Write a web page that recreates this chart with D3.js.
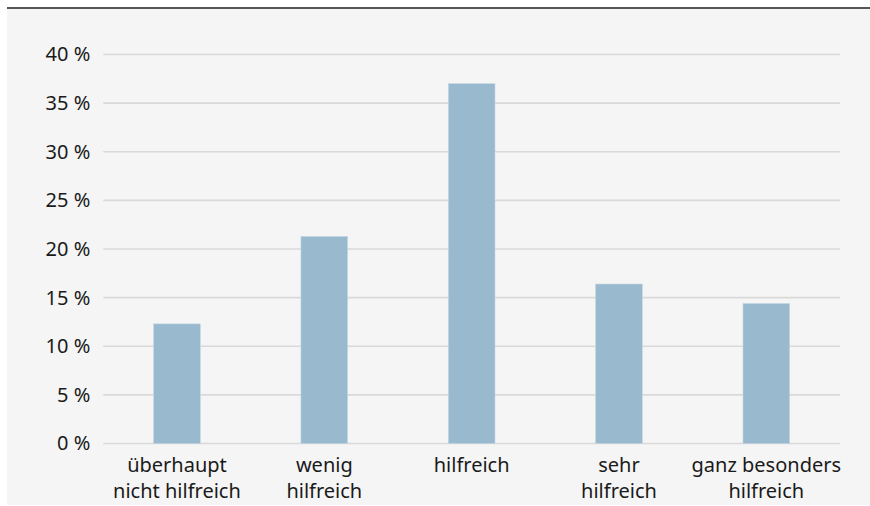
<!DOCTYPE html>
<html lang="de">
<head>
    <meta charset="UTF-8">
    <script src="https://d3js.org/d3.v7.min.js"></script>
    <style>
        body { margin: 0; padding: 0; background: #fff; }
        svg text { font-family: "Noto Sans", "Open Sans", sans-serif; fill: #1a1a1a; }
    </style>
</head>
<body>
    <div id="chart"></div>
    <script>
        // data
        var categories = [
            ["überhaupt", "nicht hilfreich"],
            ["wenig", "hilfreich"],
            ["hilfreich"],
            ["sehr", "hilfreich"],
            ["ganz besonders", "hilfreich"]
        ];
        var values = [12.3, 21.3, 37.0, 16.4, 14.4];
        var yTicks = [0, 5, 10, 15, 20, 25, 30, 35, 40];

        var W = 870, H = 506;
        var margin = { top: 54.5, right: 30, bottom: 62.5, left: 103.3 },
            width = 840 - margin.left,
            height = 443.5 - margin.top;

        var svg = d3.select("#chart")
            .append("svg")
            .attr("width", W)
            .attr("height", H);

        // panel background + top rule
        svg.append("rect")
            .attr("x", 7).attr("y", 9)
            .attr("width", W - 7).attr("height", H - 10)
            .attr("fill", "#f5f5f5");
        svg.append("line")
            .attr("x1", 7).attr("x2", W)
            .attr("y1", 8).attr("y2", 8)
            .attr("stroke", "#1e1e1e")
            .attr("stroke-width", 1.6);

        var g = svg.append("g")
            .attr("transform", "translate(" + margin.left + "," + margin.top + ")");

        var x = d3.scaleBand()
            .domain(d3.range(categories.length))
            .range([0, width])
            .paddingInner(0.683)
            .paddingOuter(0.683 / 2);

        var y = d3.scaleLinear()
            .domain([0, 40])
            .range([height, 0]);

        // gridlines
        g.selectAll(".grid")
            .data(yTicks)
            .enter()
            .append("line")
            .attr("x1", 0).attr("x2", width)
            .attr("y1", function (d) { return y(d); })
            .attr("y2", function (d) { return y(d); })
            .attr("stroke", "#d9d9d9")
            .attr("stroke-width", 1.6);

        // y axis labels
        var yAxis = g.append("g")
            .call(d3.axisLeft(y).tickValues(yTicks).tickSize(0).tickPadding(13)
                .tickFormat(function (d) { return d + " %"; }));
        yAxis.select(".domain").remove();
        yAxis.selectAll("text")
            .style("font-size", "20px")
            .attr("fill", "#1a1a1a");

        // bars
        g.selectAll(".bar")
            .data(values)
            .enter()
            .append("rect")
            .attr("x", function (d, i) { return x(i); })
            .attr("y", function (d) { return y(d); })
            .attr("width", x.bandwidth())
            .attr("height", function (d) { return height - y(d); })
            .attr("fill", "#99bace")
            .attr("stroke", "#c4d7e4")
            .attr("stroke-width", 0.6);

        // category labels
        var labels = g.selectAll(".cat")
            .data(categories)
            .enter()
            .append("text")
            .attr("text-anchor", "middle")
            .attr("x", function (d, i) { return x(i) + x.bandwidth() / 2; })
            .attr("y", height + 28)
            .style("font-size", "20px");
        labels.selectAll("tspan")
            .data(function (d) { return d; })
            .enter()
            .append("tspan")
            .attr("x", function () { return d3.select(this.parentNode).attr("x"); })
            .attr("dy", function (d, i) { return i === 0 ? 0 : 26; })
            .text(function (d) { return d; });
    </script>
</body>
</html>
